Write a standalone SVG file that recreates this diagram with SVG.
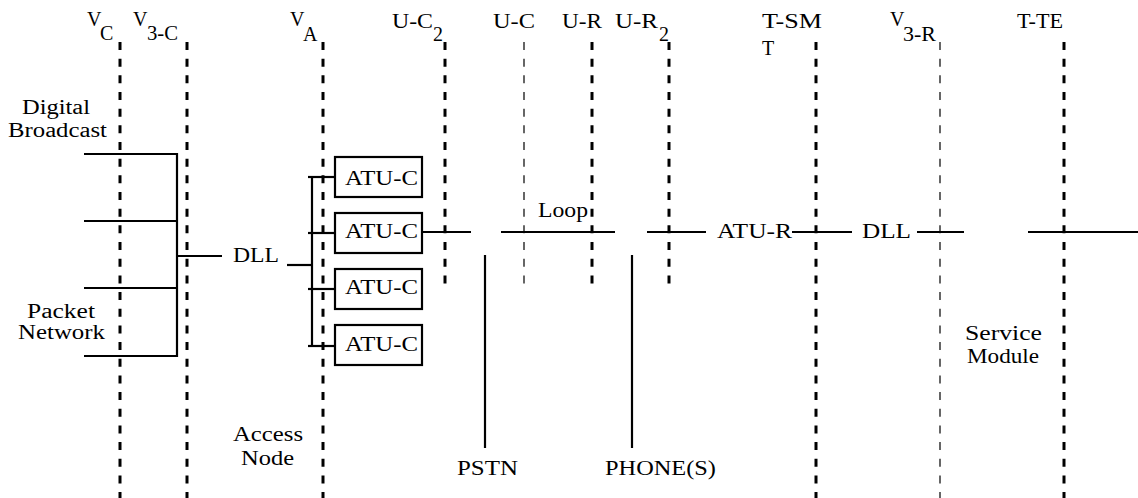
<svg xmlns="http://www.w3.org/2000/svg" width="1138" height="498" viewBox="0 0 1138 498" font-family="'Liberation Serif', 'DejaVu Serif', 'Times New Roman', serif">
<style>
text{font-family:'Liberation Serif','DejaVu Serif','Times New Roman',serif;font-size:20px;fill:#000}
.ref{stroke:#000;stroke-width:3;stroke-dasharray:8 8.67;fill:none}
.refthin{stroke:#000;stroke-width:1.2;stroke-dasharray:8 8.67;fill:none}
.wire{stroke:#000;stroke-width:2.2;fill:none}
.box{stroke:#000;stroke-width:2.2;fill:#fff}
</style>
<rect width="1138" height="498" fill="#fff"/>
<g id="reference-points">
<line class="ref" x1="120" y1="42" x2="120" y2="498"/>
<line class="ref" x1="187" y1="42" x2="187" y2="498"/>
<line class="ref" x1="323" y1="42" x2="323" y2="498"/>
<line class="ref" x1="445" y1="42" x2="445" y2="290"/>
<line class="refthin" x1="524" y1="42" x2="524" y2="290"/>
<line class="ref" x1="592" y1="42" x2="592" y2="290"/>
<line class="ref" x1="669" y1="42" x2="669" y2="290"/>
<line class="ref" x1="816" y1="42" x2="816" y2="498"/>
<line class="refthin" x1="940" y1="42" x2="940" y2="498"/>
<line class="ref" x1="1064" y1="42" x2="1064" y2="498"/>
</g>
<g id="reference-labels">
<text><tspan x="87" y="26">V</tspan><tspan x="100" y="40">C</tspan></text>
<text><tspan x="133" y="26">V</tspan><tspan x="147" y="40" textLength="31" lengthAdjust="spacingAndGlyphs">3-C</tspan></text>
<text><tspan x="290" y="26">V</tspan><tspan x="303" y="41">A</tspan></text>
<text><tspan x="392" y="28" textLength="41" lengthAdjust="spacingAndGlyphs">U-C</tspan><tspan x="433" y="41">2</tspan></text>
<text x="493" y="28" textLength="42" lengthAdjust="spacingAndGlyphs">U-C</text>
<text x="562" y="28" textLength="40" lengthAdjust="spacingAndGlyphs">U-R</text>
<text><tspan x="615" y="28" textLength="43" lengthAdjust="spacingAndGlyphs">U-R</tspan><tspan x="659" y="41">2</tspan></text>
<text x="762" y="28" textLength="60" lengthAdjust="spacingAndGlyphs">T-SM</text>
<text x="762" y="55">T</text>
<text><tspan x="890" y="26">V</tspan><tspan x="903" y="41" textLength="33" lengthAdjust="spacingAndGlyphs">3-R</tspan></text>
<text x="1017" y="28" textLength="46" lengthAdjust="spacingAndGlyphs">T-TE</text>
</g>
<g id="connectors">
<polyline class="wire" points="84,154 177,154 177,356 84,356"/>
<line class="wire" x1="84" y1="221" x2="177" y2="221"/>
<line class="wire" x1="84" y1="288" x2="177" y2="288"/>
<line class="wire" x1="177" y1="256" x2="222" y2="256"/>
<line class="wire" x1="287" y1="265" x2="312" y2="265"/>
<line class="wire" x1="312" y1="176" x2="312" y2="347"/>
<line class="wire" x1="308" y1="177" x2="335" y2="177"/>
<line class="wire" x1="308" y1="233" x2="335" y2="233"/>
<line class="wire" x1="308" y1="289" x2="335" y2="289"/>
<line class="wire" x1="308" y1="346" x2="335" y2="346"/>
<line class="wire" x1="422" y1="232" x2="471" y2="232"/>
<line class="wire" x1="501" y1="232" x2="615" y2="232"/>
<line class="wire" x1="647" y1="232" x2="706" y2="232"/>
<line class="wire" x1="792" y1="232" x2="852" y2="232"/>
<line class="wire" x1="917" y1="232" x2="964" y2="232"/>
<line class="wire" x1="1028" y1="232" x2="1138" y2="232"/>
<line class="wire" x1="485" y1="255" x2="485" y2="448"/>
<line class="wire" x1="632" y1="255" x2="632" y2="448"/>
</g>
<g id="digital-broadcast">
<text x="22" y="114" textLength="68" lengthAdjust="spacingAndGlyphs">Digital</text>
<text x="8" y="137" textLength="99" lengthAdjust="spacingAndGlyphs">Broadcast</text>
</g>
<g id="packet-network">
<text x="27" y="318" textLength="68" lengthAdjust="spacingAndGlyphs">Packet</text>
<text x="18" y="339" textLength="87" lengthAdjust="spacingAndGlyphs">Network</text>
</g>
<g id="dll-left">
<text x="233" y="262" textLength="46" lengthAdjust="spacingAndGlyphs">DLL</text>
</g>
<g id="atu-c-1">
<rect class="box" x="335" y="157" width="87" height="40"/>
<text x="345" y="185" textLength="73" lengthAdjust="spacingAndGlyphs">ATU-C</text>
</g>
<g id="atu-c-2">
<rect class="box" x="335" y="213" width="87" height="40"/>
<text x="345" y="238" textLength="73" lengthAdjust="spacingAndGlyphs">ATU-C</text>
</g>
<g id="atu-c-3">
<rect class="box" x="335" y="269" width="87" height="40"/>
<text x="345" y="294" textLength="73" lengthAdjust="spacingAndGlyphs">ATU-C</text>
</g>
<g id="atu-c-4">
<rect class="box" x="335" y="325" width="87" height="40"/>
<text x="345" y="351" textLength="73" lengthAdjust="spacingAndGlyphs">ATU-C</text>
</g>
<g id="access-node">
<text x="233" y="441" textLength="70" lengthAdjust="spacingAndGlyphs">Access</text>
<text x="241" y="465" textLength="53" lengthAdjust="spacingAndGlyphs">Node</text>
</g>
<g id="loop">
<text x="538" y="217" textLength="50" lengthAdjust="spacingAndGlyphs">Loop</text>
</g>
<g id="pstn">
<text x="457" y="475" textLength="61" lengthAdjust="spacingAndGlyphs">PSTN</text>
</g>
<g id="phones">
<text x="605" y="475" textLength="111" lengthAdjust="spacingAndGlyphs">PHONE(S)</text>
</g>
<g id="atu-r">
<text x="717" y="238" textLength="75" lengthAdjust="spacingAndGlyphs">ATU-R</text>
</g>
<g id="dll-right">
<text x="862" y="238" textLength="49" lengthAdjust="spacingAndGlyphs">DLL</text>
</g>
<g id="service-module">
<text x="965" y="340" textLength="77" lengthAdjust="spacingAndGlyphs">Service</text>
<text x="967" y="363" textLength="72" lengthAdjust="spacingAndGlyphs">Module</text>
</g>
</svg>
